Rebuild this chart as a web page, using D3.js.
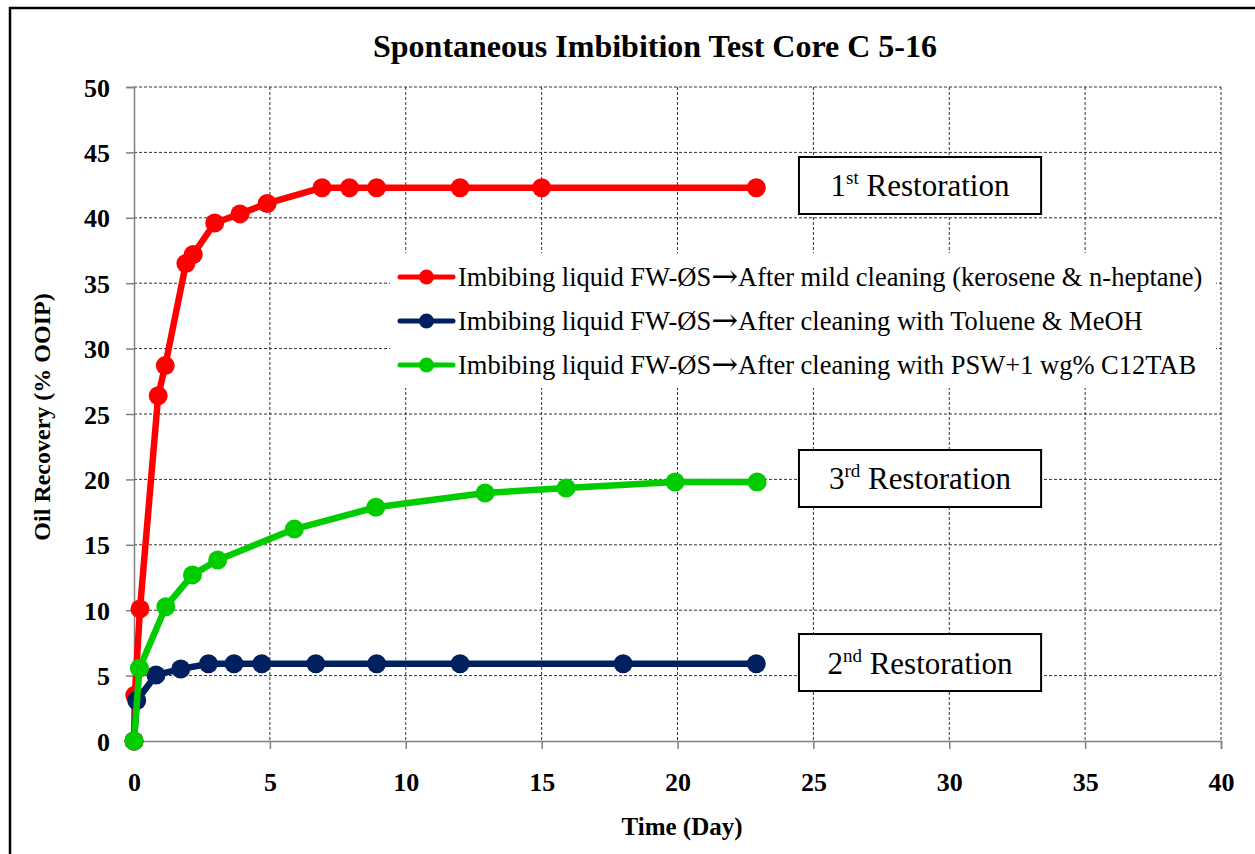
<!DOCTYPE html>
<html>
<head>
<meta charset="utf-8">
<script src="https://cdn.jsdelivr.net/npm/d3@7"></script>
<style>
  html, body { margin: 0; padding: 0; background: #fff; }
  svg { display: block; }
  text { font-family: "Liberation Serif", "Times New Roman", serif; }
</style>
</head>
<body>
<svg id="chart" width="1255" height="854"></svg>
<script>
// ---- Data ----
const redTime  = [0, 0.03, 0.22, 0.89, 1.15, 1.91, 2.18, 2.97, 3.9, 4.9, 6.92, 7.93, 8.93, 12.0, 15.0, 22.9];
const redRec   = [0, 3.5, 10.1, 26.4, 28.7, 36.5, 37.2, 39.6, 40.3, 41.1, 42.3, 42.3, 42.3, 42.3, 42.3, 42.3];
const navyTime = [0, 0.1, 0.81, 1.72, 2.74, 3.68, 4.7, 6.69, 8.93, 12.0, 18.0, 22.9];
const navyRec  = [0, 3.1, 5.05, 5.5, 5.9, 5.9, 5.9, 5.9, 5.9, 5.9, 5.9, 5.9];
const greenTime = [0, 0.2, 1.17, 2.15, 3.08, 5.9, 8.9, 12.92, 15.9, 19.91, 22.93];
const greenRec  = [0, 5.56, 10.27, 12.7, 13.84, 16.2, 17.87, 18.96, 19.34, 19.8, 19.8];

const seriesPrefix = "Imbibing liquid FW-\u00D8S";
const seriesArrow = "\u2192";
const seriesSuffix = [
  "After mild cleaning (kerosene & n-heptane)",
  "After cleaning with Toluene & MeOH",
  "After cleaning with PSW+1 wg% C12TAB"
];
const seriesColors = ["#FF0000", "#002060", "#00CC00"];

const xTicks = [0, 5, 10, 15, 20, 25, 30, 35, 40];
const yTicks = [0, 5, 10, 15, 20, 25, 30, 35, 40, 45, 50];

const annotNum = ["1", "3", "2"];
const annotSup = ["st", "rd", "nd"];
const annotLevel = [42.47, 20.07, 6.0];

const titleText = "Spontaneous Imbibition Test Core C 5-16";
const xTitle = "Time (Day)";
const yTitle = "Oil Recovery (% OOIP)";

(function () {
// ---- Layout ----
const svg = d3.select("#chart");
const pL = 134, pR = 1221, pT = 87, pB = 741;
const x = d3.scaleLinear().domain([0, 40]).range([pL, pR]);
const y = d3.scaleLinear().domain([0, 50]).range([pB, pT]);

// outer frame
svg.append("rect").attr("x", 10).attr("y", 8).attr("width", 1265).attr("height", 870)
  .attr("fill", "none").attr("stroke", "#000").attr("stroke-width", 2.5);

// grid
const grid = svg.append("g");
grid.selectAll(".gx").data(xTicks.filter(d => d > 0)).enter().append("line")
  .attr("x1", d => x(d)).attr("x2", d => x(d)).attr("y1", pT).attr("y2", pB)
  .attr("stroke", "#333").attr("stroke-width", 1).attr("stroke-dasharray", "3,2");
grid.selectAll(".gy").data(yTicks.filter(d => d > 0)).enter().append("line")
  .attr("x1", pL).attr("x2", pR).attr("y1", d => y(d)).attr("y2", d => y(d))
  .attr("stroke", "#333").attr("stroke-width", 1).attr("stroke-dasharray", "3,2");

// axes
const xAxis = d3.axisBottom(x).tickValues(xTicks).tickSize(8).tickFormat(d3.format("d"));
const yAxis = d3.axisLeft(y).tickValues(yTicks).tickSize(8).tickFormat(d3.format("d"));
const gx = svg.append("g").attr("transform", `translate(0,${pB})`).call(xAxis);
const gy = svg.append("g").attr("transform", `translate(${pL},0)`).call(yAxis);
[gx, gy].forEach(g => {
  g.select(".domain").attr("stroke", "#808080").attr("stroke-width", 1.5);
  g.selectAll(".tick line").attr("stroke", "#808080").attr("stroke-width", 1.5);
  g.selectAll(".tick text").attr("fill", "#000").attr("font-family", "Liberation Serif")
    .attr("font-weight", "bold").attr("font-size", 26);
});
gx.selectAll(".tick text").attr("dy", 0).attr("y", 50);
gy.selectAll(".tick text").attr("x", -24).attr("dy", "0.35em");

// legend background
const legX = 390, legY = 253;
svg.append("rect").attr("x", legX).attr("y", legY).attr("width", 826).attr("height", 135).attr("fill", "#fff");

// series
const series = [
  {t: redTime, v: redRec},
  {t: navyTime, v: navyRec},
  {t: greenTime, v: greenRec}
];
const line = d3.line().x(d => x(d[0])).y(d => y(d[1]));
series.forEach((s, i) => {
  const pts = s.t.map((t, j) => [t, s.v[j]]);
  const g = svg.append("g");
  g.append("path").datum(pts).attr("d", line).attr("fill", "none")
    .attr("stroke", seriesColors[i]).attr("stroke-width", 6.5).attr("stroke-linejoin", "round");
  g.selectAll("circle").data(pts).enter().append("circle")
    .attr("cx", d => x(d[0])).attr("cy", d => y(d[1])).attr("r", 9.5).attr("fill", seriesColors[i]);
});

// legend
const leg = svg.append("g");
seriesSuffix.forEach((suf, i) => {
  const cy = 277 + i * 44;
  leg.append("line").attr("x1", 400).attr("x2", 453).attr("y1", cy).attr("y2", cy)
    .attr("stroke", seriesColors[i]).attr("stroke-width", 5).attr("stroke-linecap", "round");
  leg.append("circle").attr("cx", 426.5).attr("cy", cy).attr("r", 7.5).attr("fill", seriesColors[i]);
  const t = leg.append("text").attr("x", 458).attr("y", cy + 9).attr("font-size", 26.5).attr("fill", "#000");
  t.append("tspan").text(seriesPrefix);
  t.append("tspan").attr("font-family", "DejaVu Serif").attr("font-size", 32).attr("dy", 1).text(seriesArrow);
  t.append("tspan").attr("dy", -1).text(suf);
});

// annotation boxes
const bx0 = 24.47, bx1 = 33.38, bh = 57;
annotNum.forEach((n, i) => {
  const cy = y(annotLevel[i]);
  svg.append("rect").attr("x", x(bx0)).attr("y", cy - bh / 2).attr("width", x(bx1) - x(bx0)).attr("height", bh)
    .attr("fill", "#fff").attr("stroke", "#000").attr("stroke-width", 2);
  const t = svg.append("text").attr("x", (x(bx0) + x(bx1)) / 2).attr("y", cy + 11)
    .attr("text-anchor", "middle").attr("font-size", 31).attr("fill", "#000");
  t.append("tspan").text(n);
  t.append("tspan").attr("font-size", 19).attr("dy", -12).text(annotSup[i]);
  t.append("tspan").attr("dy", 12).text(" Restoration");
});

// titles
svg.append("text").attr("x", 655).attr("y", 57).attr("text-anchor", "middle")
  .attr("font-weight", "bold").attr("font-size", 32).attr("fill", "#000").text(titleText);
svg.append("text").attr("x", 682).attr("y", 835).attr("text-anchor", "middle")
  .attr("font-weight", "bold").attr("font-size", 25).attr("fill", "#000").text(xTitle);
svg.append("text").attr("transform", "translate(50,417) rotate(-90)").attr("text-anchor", "middle")
  .attr("font-weight", "bold").attr("font-size", 24).attr("fill", "#000").text(yTitle);
})();
</script>
</body>
</html>
